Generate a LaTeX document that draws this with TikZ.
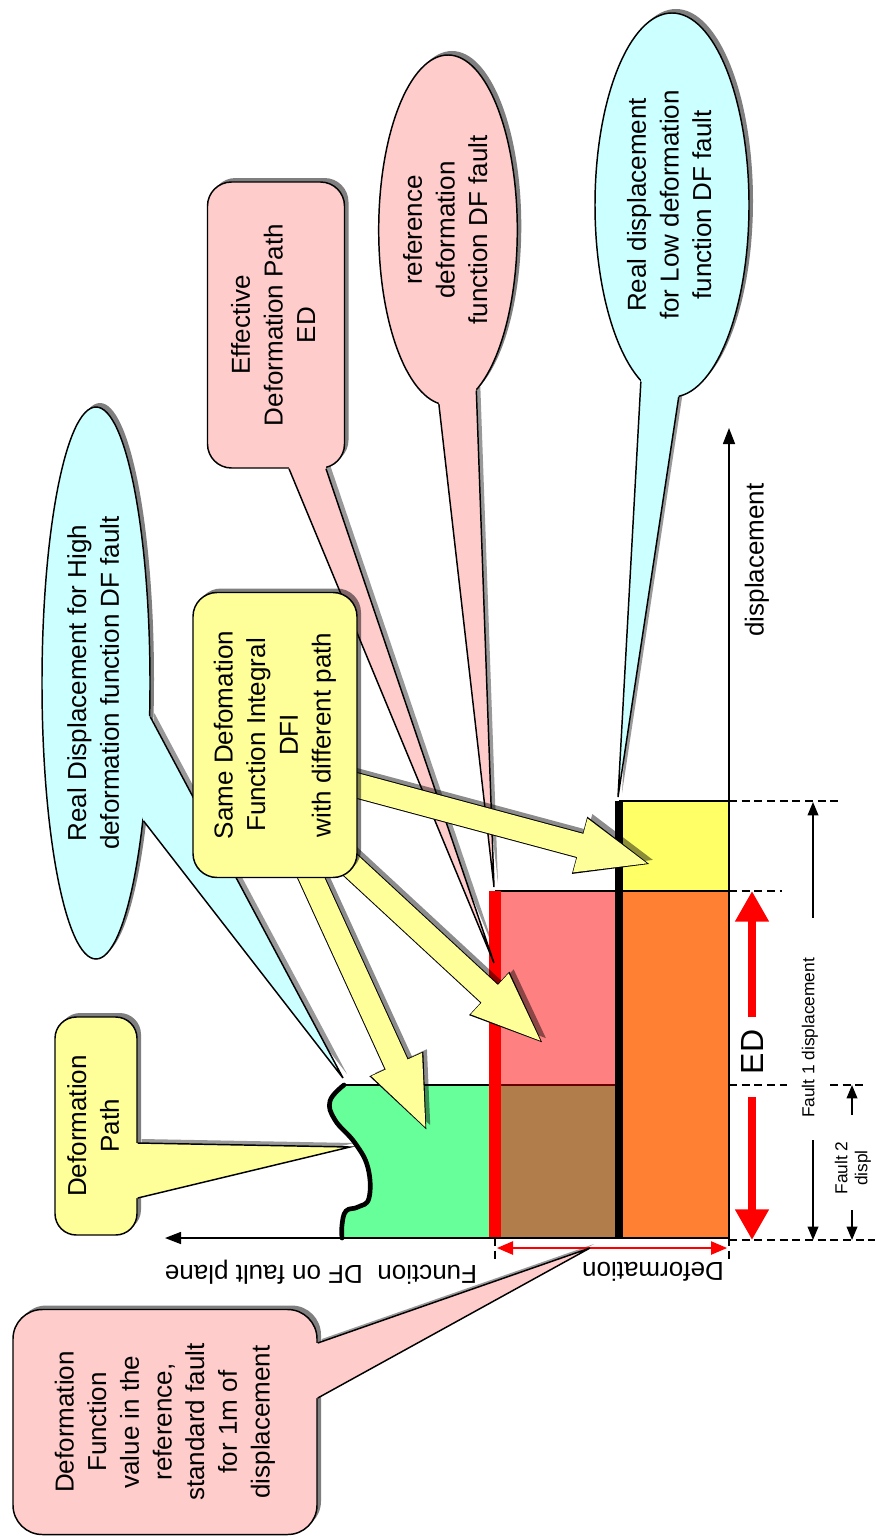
\documentclass[tikz,border=0pt]{standalone}
\usepackage{fontspec}
\setmainfont{Liberation Sans}
\usepackage{graphicx}
\usetikzlibrary{arrows.meta,shadows,calc,shapes.geometric}
\pgfdeclarelayer{bg}
\pgfdeclarelayer{front}
\pgfsetlayers{bg,main,front}
\definecolor{cyanc}{HTML}{CCFFFF}
\definecolor{pinkc}{HTML}{FFCCCC}
\definecolor{yelc}{HTML}{FFFF99}
\definecolor{greenb}{HTML}{66FF99}
\definecolor{pinkb}{HTML}{FF8080}
\definecolor{brownb}{HTML}{B07D4B}
\definecolor{orangeb}{HTML}{FF8033}
\definecolor{yellowb}{HTML}{FFFF66}
\newcommand\mybig{\fontsize{19.5}{24.5}\selectfont}
\newcommand\mysmall{\fontsize{13}{16}\selectfont}
\newcommand\rtext[1]{\rotatebox{90}{\begin{tabular}{@{}c@{}}#1\end{tabular}}}
% tail: colour, base1, base2, tip, inner1, inner2
\newcommand\calltail[6]{%
  \begin{pgfonlayer}{bg}
    \fill[black,opacity=.4,transform canvas={shift={(3pt,3pt)}}] #2 -- #4 -- #3 -- cycle;
  \end{pgfonlayer}
  \fill[#1] #5 -- #2 -- #4 -- #3 -- #6 -- cycle;
  \draw[line width=1.1pt] #2 -- #4 -- #3;}
\begin{document}
\begin{tikzpicture}[x=0.75pt,y=-0.75pt,
  thinline/.style={line width=1.1pt},
  dimline/.style={line width=1.1pt,dash pattern=on 6pt off 3.5pt},
  cbox/.style={draw,line width=1.1pt,inner sep=0pt,font=\mybig,
    drop shadow={shadow xshift=3pt,shadow yshift=3pt,opacity=.5,fill=black}},
  fatshadow/.style={draw=black,opacity=.45,line width=18pt,-{Triangle[width=38pt,length=56pt]},
    transform canvas={shift={(3pt,3pt)}}},
  fatout/.style={draw=black,line width=19.5pt,-{Triangle[width=39.5pt,length=57pt]}},
  fatin/.style={draw=yelc,line width=18pt,-{Triangle[width=37pt,length=55pt]},shorten >=1.5pt},
  edarrow/.style={red,line width=6pt,-{Triangle[width=24pt,length=23pt]}},
  farrow/.style={line width=1.1pt,-{Triangle[width=8pt,length=10pt]}},
  axarrow/.style={line width=1.1pt,-{Triangle[width=9pt,length=12pt]}}]
\useasboundingbox (0,0) rectangle (875,1538);
\begin{pgfonlayer}{bg}
  \fill[white] (0,0) rectangle (875,1538);
\end{pgfonlayer}

% ---------- blocks ----------
\fill[pinkb] (495,891) rectangle (619,1085);
\fill[brownb] (495,1085) rectangle (619,1238);
\fill[yellowb] (619,801) rectangle (729,891);
\fill[orangeb] (619,891) rectangle (729,1238);
\fill[greenb] plot[smooth,tension=.7] coordinates {(344,1085) (330,1101) (335,1120) (355,1143) (368,1168) (369,1198) (358,1207) (346,1211) (342,1225) (342,1238)} -- (495,1238) -- (495,1085) -- cycle;
\draw[thinline] (344,1085) -- (495,1085);
\draw[thinline,draw=black!60!red] (495,1085) -- (619,1085);
\draw[thinline] (495,891) -- (729,891);
\draw[thinline] (619,801) -- (729,801);
\draw[line width=3.5pt,line cap=round] plot[smooth,tension=.7] coordinates {(344,1085) (330,1101) (335,1120) (355,1143) (368,1168) (369,1198) (358,1207) (346,1211) (342,1225) (342,1238)};
\draw[red,line width=8.5pt] (495,891) -- (495,1238);
\draw[line width=6pt] (619,801) -- (619,1238);

% ---------- axes ----------
\coordinate (o) at (729,1238);
\coordinate (ytip) at (729,428);
\coordinate (xtip) at (165,1238);
\draw[axarrow] (o) -- (ytip);
\draw[axarrow] (o) -- (xtip);
\node[font=\mybig,rotate=90] (disp) at (757,560) {displacement};
\node[font=\mybig,rotate=180] (flab) at (321,1272) {Function\ \ DF on fault plane};
\node[font=\mybig,rotate=180] (dlab) at (653,1272) {Deformation};

% deformation dimension
\coordinate (dl) at (497,1248);
\coordinate (dr) at (727,1248);
\draw[dimline] (495,1238) -- (495,1262);
\draw[dimline] (729,1238) -- (729,1262);
\draw[red,line width=1.1pt,{Triangle[width=10pt,length=12pt]}-{Triangle[width=10pt,length=12pt]}] (dl) -- (dr);

% right dashed extension lines
\draw[dimline] (729,801) -- (840,801);
\draw[dimline] (729,891) -- (782,891);
\draw[dimline] (729,1085) -- (787,1085);
\draw[dimline] (830,1085) -- (865,1085);
\draw[dimline] (729,1240) -- (875,1240);

% ED
\node[font=\fontsize{24}{28}\selectfont,rotate=90] (ed) at (752,1052) {ED};
\coordinate (edt) at (752,891);
\coordinate (edb) at (752,1240);
\draw[edarrow] ($(ed)+(0,-35)$) -- (edt);
\draw[edarrow] ($(ed)+(0,45)$) -- (edb);

% Fault 1 / Fault 2
\node[font=\mysmall,rotate=90] (f1) at (810,1038) {Fault 1 displacement};
\coordinate (f1t) at (813,802);
\coordinate (f1b) at (813,1240);
\draw[farrow] ($(f1)+(3,-120)$) -- (f1t);
\draw[farrow] ($(f1)+(3,102)$) -- (f1b);
\node[font=\mysmall,rotate=90,inner sep=0pt] (f2) at (853,1168) {\begin{tabular}{@{}c@{}}Fault 2\\[-1pt]displ\end{tabular}};
\coordinate (f2t) at (852,1085);
\coordinate (f2b) at (852,1240);
\draw[farrow] ($(f2)+(-1,-53)$) -- (f2t);
\draw[farrow] ($(f2)+(-1,42)$) -- (f2b);

% ---------- callouts ----------
\node[cbox,ellipse,fill=cyanc,minimum width=154*0.75,minimum height=384*0.75] (low) at (672,205)
  {\rtext{Real displacement\\for Low deformation\\function DF fault}};
\coordinate (lowtip) at (618,797);
\calltail{cyanc}{(low.-100)}{(low.-88)}{(lowtip)}{($(low.center)!.96!(low.-100)$)}{($(low.center)!.96!(low.-88)$)}

\node[cbox,ellipse,fill=pinkc,minimum width=137*0.75,minimum height=350*0.75] (ref) at (448,230)
  {\rtext{reference\\deformation\\function DF fault}};
\coordinate (reftip) at (494,887);
\calltail{pinkc}{(ref.-93)}{(ref.-80)}{(reftip)}{($(ref.center)!.96!(ref.-93)$)}{($(ref.center)!.96!(ref.-80)$)}

\node[cbox,rounded corners=18pt,fill=pinkc,minimum width=137*0.75,minimum height=286*0.75] (eff) at (276,325)
  {\rtext{Effective\\Deformation Path\\ED}};
\coordinate (efftip) at (494,963);
\calltail{pinkc}{($(eff.south)+(13,0)$)}{($(eff.south)+(50,0)$)}{(efftip)}{($(eff.south)+(13,-4)$)}{($(eff.south)+(50,-4)$)}

\node[cbox,ellipse,fill=cyanc,minimum width=108*0.75,minimum height=552*0.75] (hi) at (96,683)
  {\rtext{Real Displacement for High\\deformation function DF fault}};
\coordinate (hitip) at (343,1078);
\calltail{cyanc}{(hi.-32)}{(hi.-71)}{(hitip)}{($(hi.center)!.95!(hi.-32)$)}{($(hi.center)!.97!(hi.-71)$)}

\node[cbox,rounded corners=16pt,fill=yelc,minimum width=82*0.75,minimum height=218*0.75] (dp) at (96,1126)
  {\rtext{Deformation\\Path}};
\coordinate (dptip) at (350,1147);
\calltail{yelc}{($(dp.east)+(0,17)$)}{($(dp.east)+(0,72)$)}{(dptip)}{($(dp.east)+(-4,17)$)}{($(dp.east)+(-4,72)$)}

\node[cbox,rounded corners=22pt,fill=pinkc,minimum width=304*0.75,minimum height=225*0.75] (dfv) at (165,1422)
  {\rtext{Deformation\\Function\\value in the\\reference,\\standard fault\\for 1m of\\displacement}};
\coordinate (dfvtip) at (590,1248);
\calltail{pinkc}{($(dfv.east)+(0,-79)$)}{($(dfv.east)+(0,-24)$)}{(dfvtip)}{($(dfv.east)+(-4,-79)$)}{($(dfv.east)+(-4,-24)$)}

% ---------- DFI box and its arrows ----------
\begin{pgfonlayer}{front}
\node[cbox,rounded corners=18pt,fill=yelc,minimum width=164*0.75,minimum height=285*0.75] (dfi) at (275,735)
  {\rtext{Same Defomation\\Function Integral\\DFI\\with different path}};
\end{pgfonlayer}
\coordinate (ag) at (428,1133);
\coordinate (ap) at (545,1045);
\coordinate (ay) at (653,865);
\coordinate (sg) at ($(dfi.south)+(25,-25)$);
\coordinate (sp) at ($(dfi.south east)+(-20,-25)$);
\coordinate (sy) at ($(dfi.east)+(-10,48)$);
\draw[fatshadow] (sg) -- (ag);
\draw[fatshadow] (sp) -- (ap);
\draw[fatshadow] (sy) -- (ay);
\draw[fatout] (sg) -- (ag);
\draw[fatin] (sg) -- (ag);
\draw[fatout] (sp) -- (ap);
\draw[fatin] (sp) -- (ap);
\draw[fatout] (sy) -- (ay);
\draw[fatin] (sy) -- (ay);
\end{tikzpicture}
\end{document}
